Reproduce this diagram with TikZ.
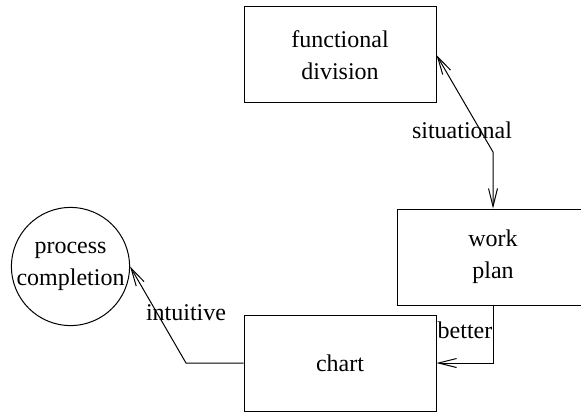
\documentclass[tikz,border=0pt]{standalone}
\usepackage{fontspec}
\setmainfont{Liberation Serif}
\usetikzlibrary{arrows.meta,positioning}

\begin{document}
\begin{tikzpicture}[x=0.5pt, y=-0.5pt, line width=0.5pt,
    box/.style = {draw, minimum width=96pt, minimum height=48pt, align=center,
                  font=\fontsize{12}{16}\selectfont},
    bubble/.style = {draw, circle, minimum size=57.5pt, inner sep=0pt, align=center,
                  font=\fontsize{12}{16}\selectfont},
    lbl/.style = {font=\fontsize{12}{14}\selectfont},
    >={Straight Barb[length=9pt, width=4.5pt]}]
    \useasboundingbox (0,0) rectangle (581,411);

    % boxes and circle
        \node[box] (fd) at (340,55) {functional\\division};
        \node[box] (wp) at (493,257) {work\\plan};
        \node[box] (ch) at (340,363) {chart};
        \node[bubble] (pc) at (70.5,266.5) {process\\completion};

    % bends of the connectors
        \coordinate (B1) at (493,152);
        \coordinate (B2) at (186,363);

    % connectors
        \draw[<->] (fd.east) -- (B1) -- (wp.north);
        \draw[->] (wp.south) |- (ch.east);
        \draw[->] (ch.west) -- (B2) -- (pc.east);

    % labels
        \node[lbl] at (462,130) {situational};
        \node[lbl] at (465,330) {better};
        \node[lbl] at (186,313) {intuitive};
\end{tikzpicture}
\end{document}
